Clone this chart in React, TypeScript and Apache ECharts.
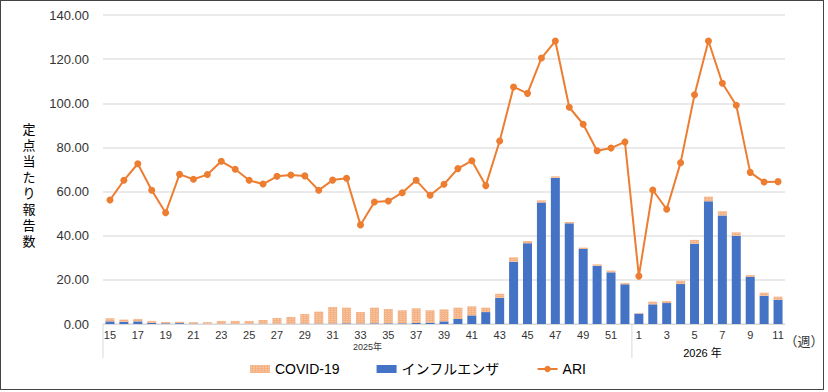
import React, { useEffect, useRef } from "react";
import * as echarts from "echarts";

const weeks2025 = ["15","16","17","18","19","20","21","22","23","24","25","26","27","28","29","30","31","32","33","34","35","36","37","38","39","40","41","42","43","44","45","46","47","48","49","50","51","52"];
const weeks2026 = ["1","2","3","4","5","6","7","8","9","10","11"];
const yearLabels = ["2025年", "2026 年"];

const influenza = [1.2,1.0,1.2,0.5,0.3,0.4,0.2,0.1,0.1,0.1,0.1,0.1,0.1,0.1,0.2,0.2,0.2,0.3,0.2,0.3,0.3,0.3,0.5,0.6,1.2,2.3,3.9,5.4,11.8,28.2,36.6,55.0,66.2,45.6,34.0,26.4,23.4,18.0,
  4.7,8.9,9.5,18.1,36.4,55.6,49.2,39.9,21.4,12.8,10.9];
const covid = [1.4,1.0,1.1,0.9,0.6,0.6,0.6,0.7,1.3,1.3,1.3,1.7,2.6,3.1,4.3,5.4,7.5,7.1,5.2,7.1,6.5,5.9,6.6,5.6,5.4,5.1,4.1,2.0,1.9,2.0,1.0,1.0,0.7,0.6,0.6,0.6,0.8,0.6,
  0.3,1.2,0.9,1.5,1.7,2.1,1.9,1.6,0.8,1.4,1.5];
const ari = [56.2,65.1,72.6,60.6,50.4,67.8,65.6,67.7,73.7,70.1,65.1,63.4,66.9,67.5,67.1,60.6,65.2,66.0,44.9,55.3,55.7,59.5,65.1,58.3,63.3,70.4,74.0,62.7,82.9,107.4,104.5,120.5,128.2,98.2,90.5,78.5,79.7,82.5,
  21.7,60.7,52.0,73.1,103.9,128.2,109.1,99.1,68.7,64.3,64.5];

const categories = [...weeks2025, ...weeks2026];
const FONT = "'Liberation Sans', 'Noto Sans CJK JP', sans-serif";

export default function App() {
  const ref = useRef<HTMLDivElement>(null);
  useEffect(() => {
    if (!ref.current) return;
    const chart = echarts.init(ref.current, null, { renderer: "svg" });
    chart.setOption({
      animation: false,
      textStyle: { fontFamily: FONT },
      grid: { left: 102, right: 38, top: 14, bottom: 65 },
      legend: {
        left: 244,
        top: 356,
        itemGap: 37,
        itemWidth: 20,
        itemHeight: 8,
        textStyle: { fontSize: 14, color: "#000", fontFamily: FONT },
        data: [
          { name: "COVID-19", icon: "rect" },
          { name: "インフルエンザ", icon: "rect" },
          { name: "ARI" },
        ],
      },
      xAxis: {
        type: "category",
        data: categories,
        axisLine: { lineStyle: { color: "#D9D9D9" } },
        axisTick: { show: false },
        axisLabel: { interval: 1, fontSize: 11, color: "#333", margin: 5 },
      },
      yAxis: {
        type: "value",
        min: 0,
        max: 140,
        interval: 20,
        axisLabel: {
          fontSize: 13,
          color: "#333",
          margin: 14,
          formatter: (v: number) => v.toFixed(2),
        },
        splitLine: { lineStyle: { color: "#E3E3E3", width: 1.5 } },
        axisLine: { show: false },
        axisTick: { show: false },
      },
      series: [
        {
          name: "インフルエンザ",
          type: "bar",
          stack: "a",
          data: influenza,
          barWidth: 9,
          itemStyle: { color: "#4472C4" },
        },
        {
          name: "COVID-19",
          type: "bar",
          stack: "a",
          data: covid,
          barWidth: 9,
          itemStyle: {
            color: "#F4B183",
            decal: {
              symbol: "rect",
              symbolSize: 0.7,
              color: "rgba(255,255,255,0.7)",
              dashArrayX: [2, 1],
              dashArrayY: [1, 1],
              rotation: 0,
            },
          },
        },
        {
          name: "ARI",
          type: "line",
          data: ari,
          symbol: "circle",
          symbolSize: 7,
          lineStyle: { color: "#ED7D31", width: 2 },
          itemStyle: { color: "#ED7D31" },
        },
      ],
    });

    const p0 = chart.convertToPixel({ xAxisIndex: 0 }, 0) as number;
    const p1 = chart.convertToPixel({ xAxisIndex: 0 }, 1) as number;
    const bw = p1 - p0;
    const leftEdge = p0 - bw / 2;
    const sepX = leftEdge + bw * weeks2025.length;
    const rightEdge = leftEdge + bw * categories.length;
    const axisY = chart.convertToPixel({ yAxisIndex: 0 }, 0) as number;

    chart.setOption({
      graphic: [
        { type: "line", shape: { x1: leftEdge, y1: axisY, x2: leftEdge, y2: axisY + 34 }, style: { stroke: "#D9D9D9", lineWidth: 1 } },
        { type: "line", shape: { x1: sepX, y1: axisY, x2: sepX, y2: axisY + 34 }, style: { stroke: "#D9D9D9", lineWidth: 1 } },
        { type: "text", x: (leftEdge + sepX) / 2, y: axisY + 23, style: { text: yearLabels[0], fontSize: 9, fill: "#333", textAlign: "center", textVerticalAlign: "middle", fontFamily: FONT } },
        { type: "text", x: (sepX + rightEdge) / 2 - 6, y: axisY + 29, style: { text: yearLabels[1], fontSize: 11, fill: "#000", textAlign: "center", textVerticalAlign: "middle", fontFamily: FONT } },
        { type: "text", x: rightEdge + 19, y: axisY + 17, style: { text: "（週）", fontSize: 13, fill: "#333", textAlign: "center", textVerticalAlign: "middle", fontFamily: FONT } },
        { type: "text", x: 28, y: 184, style: { text: "定\n点\n当\nた\nり\n報\n告\n数", fontSize: 13, lineHeight: 16, fill: "#000", textAlign: "center", textVerticalAlign: "middle", fontFamily: FONT } },
      ],
    });
    return () => chart.dispose();
  }, []);
  return (
    <div
      style={{
        position: "fixed",
        left: 0,
        top: 0,
        width: 824,
        height: 390,
        border: "1px solid #444",
        boxSizing: "border-box",
        background: "#fff",
      }}
    >
      <div ref={ref} style={{ width: 822, height: 388 }} />
    </div>
  );
}
